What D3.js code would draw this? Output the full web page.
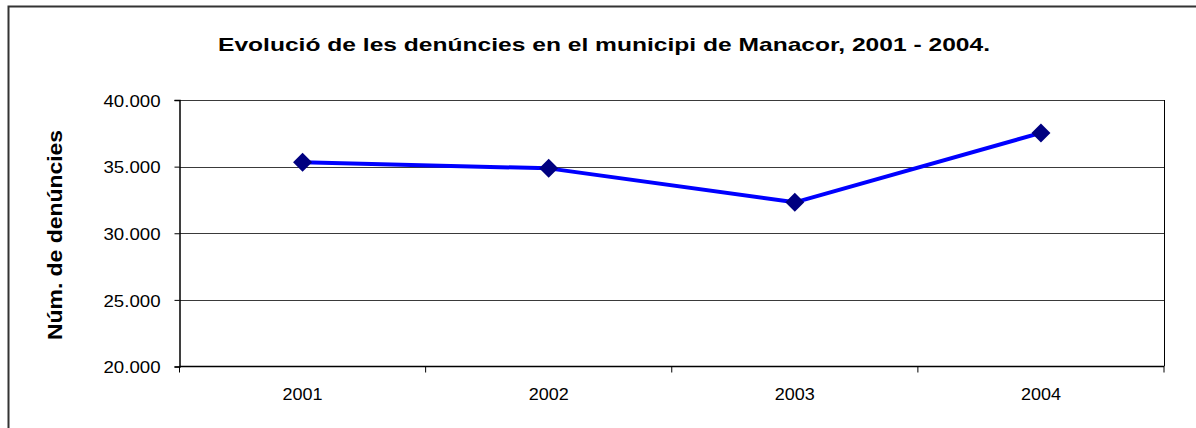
<!DOCTYPE html>
<html>
<head>
<meta charset="utf-8">
<script src="https://cdn.jsdelivr.net/npm/d3@7"></script>
<style>
  html, body { margin: 0; padding: 0; background: #fff; }
  svg { display: block; }
</style>
</head>
<body>
<svg id="chart" width="1196" height="428"></svg>
<script>
const years = ["2001", "2002", "2003", "2004"];
const denuncies = [35320, 34870, 32320, 37530];
const yTicks = [20000, 25000, 30000, 35000, 40000];
const titleText = "Evolució de les denúncies en el municipi de Manacor, 2001 - 2004.";
const yTitle = "Núm. de denúncies";

const svg = d3.select("#chart");
const m = { left: 179.5, right: 1164, top: 100, bottom: 366.5 };
const FONT = "Liberation Sans, Arial, sans-serif";

// outer frame
svg.append("rect").attr("x", 8.5).attr("y", 6.5).attr("width", 1300).attr("height", 600)
  .attr("fill", "#fff").attr("stroke", "#333").attr("stroke-width", 2);

const x = d3.scaleBand().domain(years).range([m.left, m.right]).padding(0);
const y = d3.scaleLinear().domain([20000, 40000]).range([m.bottom, m.top]);

const fmt = d => d3.format(",")(d).replace(/,/g, ".");

// gridlines
svg.append("g").selectAll("line").data(yTicks.filter(d => d > 20000)).join("line")
  .attr("x1", m.left).attr("x2", m.right)
  .attr("y1", d => Math.round(y(d)) + 0.5).attr("y2", d => Math.round(y(d)) + 0.5)
  .attr("stroke", "#3a3a3a").attr("stroke-width", 1);

// right border of plot
svg.append("line").attr("x1", m.right + 0.5).attr("x2", m.right + 0.5)
  .attr("y1", m.top).attr("y2", m.bottom).attr("stroke", "#000").attr("stroke-width", 1);

// y axis
const yAxis = d3.axisLeft(y).tickValues(yTicks).tickFormat(fmt).tickSize(5).tickPadding(14);
const gy = svg.append("g").attr("transform", `translate(${m.left},0)`).call(yAxis);
gy.select(".domain").attr("stroke", "#000").attr("stroke-width", 1.5);
gy.selectAll(".tick line").attr("stroke", "#000");
gy.selectAll(".tick text").attr("font-family", FONT)
  .attr("font-size", 17).attr("fill", "#000")
  .attr("textLength", 57).attr("lengthAdjust", "spacingAndGlyphs")
  .attr("dy", "0.36em");

// x axis with ticks at category boundaries
const gx = svg.append("g").attr("transform", `translate(0,${m.bottom})`);
gx.append("line").attr("x1", m.left).attr("x2", m.right).attr("y1", 0).attr("y2", 0)
  .attr("stroke", "#000").attr("stroke-width", 1.5);
const bounds = years.map(d => x(d)).concat([x(years[years.length - 1]) + x.bandwidth()]);
gx.selectAll("line.tk").data(bounds).join("line").attr("class", "tk")
  .attr("x1", d => d).attr("x2", d => d).attr("y1", 0).attr("y2", 6)
  .attr("stroke", "#000").attr("stroke-width", 1);
gx.selectAll("text").data(years).join("text")
  .attr("x", d => x(d) + x.bandwidth() / 2).attr("y", 33)
  .attr("text-anchor", "middle")
  .attr("font-family", FONT).attr("font-size", 17)
  .attr("textLength", 40).attr("lengthAdjust", "spacingAndGlyphs")
  .attr("fill", "#000").text(d => d);

// line
const line = d3.line().x((d, i) => x(years[i]) + x.bandwidth() / 2).y(d => y(d));
svg.append("path").datum(denuncies).attr("d", line)
  .attr("fill", "none").attr("stroke", "#0000ff").attr("stroke-width", 4)
  .attr("stroke-linejoin", "round");

// markers
const sym = d3.symbol().type(d3.symbolDiamond2).size(230);
svg.append("g").selectAll("path").data(denuncies).join("path")
  .attr("transform", (d, i) => `translate(${x(years[i]) + x.bandwidth() / 2},${y(d)})`)
  .attr("d", sym).attr("fill", "#000080");

// title
svg.append("text").attr("x", 604).attr("y", 51).attr("text-anchor", "middle")
  .attr("font-family", FONT).attr("font-size", 19)
  .attr("textLength", 772).attr("lengthAdjust", "spacingAndGlyphs")
  .attr("font-weight", "bold").attr("fill", "#000").text(titleText);

// y title
svg.append("text").attr("transform", "translate(62,235) rotate(-90)")
  .attr("text-anchor", "middle")
  .attr("font-family", FONT).attr("font-size", 20)
  .attr("textLength", 210).attr("lengthAdjust", "spacingAndGlyphs")
  .attr("font-weight", "bold").attr("fill", "#000").text(yTitle);
</script>
</body>
</html>
